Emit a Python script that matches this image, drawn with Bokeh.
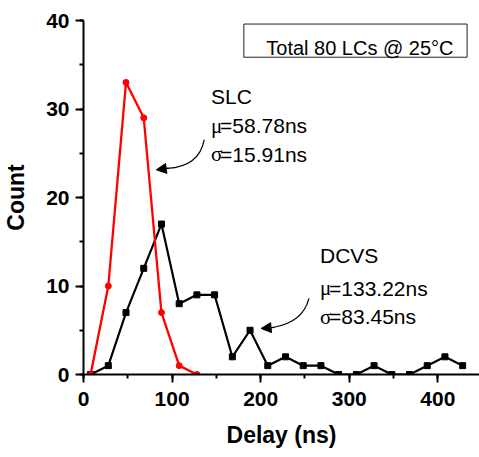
import math
from bokeh.plotting import figure
from bokeh.models import Range1d, SingleIntervalTicker, Arrow, NormalHead
from bokeh.embed import file_html
from bokeh.resources import INLINE
from bokeh.core.properties import value

# ---- data ----
dcvs_delay = [8, 28, 48, 68, 88, 108, 128, 148, 168, 188, 208, 228, 248, 268,
              288, 308, 328, 348, 368, 388, 408, 428]
dcvs_count = [0, 1, 7, 12, 17, 8, 9, 9, 2, 5, 1, 2, 1, 1, 0, 0, 1, 0, 0, 1, 2, 1]
slc_delay = [8, 28, 48, 68, 88, 108, 128]
slc_count = [0, 10, 33, 29, 7, 1, 0]

x_ticks = [0, 100, 200, 300, 400]
y_ticks = [0, 10, 20, 30, 40]

SANS = "Liberation Sans"
SERIF = "Liberation Serif"

p = figure(width=479, height=457, x_range=Range1d(0, 447), y_range=Range1d(0, 40),
           output_backend="svg", toolbar_location=None,
           min_border_left=82, min_border_right=0, min_border_top=20, min_border_bottom=83)
p.outline_line_color = None
p.grid.visible = False
p.background_fill_color = "white"
p.border_fill_color = "white"

for ax, interval in ((p.xaxis[0], 100), (p.yaxis[0], 10)):
    ax.ticker = SingleIntervalTicker(interval=interval, num_minor_ticks=2)
    ax.axis_line_width = 2
    ax.major_tick_line_width = 2
    ax.minor_tick_line_width = 2
    ax.major_tick_in = 0
    ax.major_tick_out = 8
    ax.minor_tick_in = 0
    ax.minor_tick_out = 4
    ax.major_label_text_font = SANS
    ax.major_label_text_font_style = "bold"
    ax.major_label_text_font_size = "21px"
    ax.major_label_text_color = "black"
    ax.axis_line_color = "black"
    ax.axis_label_text_font = SANS
    ax.axis_label_text_font_style = "bold"
    ax.axis_label_text_font_size = "23px"
    ax.axis_label_text_color = "black"

p.xaxis.major_label_standoff = 9
p.yaxis.major_label_standoff = 6
p.xaxis.axis_label = "Delay (ns)"
p.xaxis.axis_label_standoff = 13
p.yaxis.axis_label = "Count"
p.yaxis.axis_label_standoff = 14

# series
p.line(dcvs_delay, dcvs_count, line_color="black", line_width=2.2)
p.scatter(dcvs_delay, dcvs_count, marker="square", size=6, fill_color="black", line_color="black")
p.line(slc_delay, slc_count, line_color="red", line_width=2.3)
p.scatter(slc_delay, slc_count, marker="circle", size=6, fill_color="red", line_color="red")

# box label
p.quad(left=[181], right=[433], bottom=[35.85], top=[39.6],
       fill_color="white", line_color="#222222", line_width=1)
p.text(x=[312], y=[36.9], text=["Total 80 LCs @ 25\u00b0C"], text_align="center",
       text_baseline="alphabetic", text_font=value(SANS), text_font_size="20px", text_color="black")

def stats_block(x, y_name, y_mu, y_sig, name, mu, sig):
    p.text(x=[x], y=[y_name], text=[name], text_baseline="alphabetic",
           text_font=value(SANS), text_font_size="21px", text_color="black")
    p.text(x=[x, x], y=[y_mu, y_sig], text=["\u03bc", "\u03c3"], text_baseline="alphabetic",
           text_font=value(SERIF), text_font_size="21px", text_color="black")
    p.text(x=[x, x], y=[y_mu, y_sig], text=["=" + mu, "=" + sig], x_offset=9,
           text_baseline="alphabetic", text_font=value(SANS), text_font_size="21px",
           text_color="black")

stats_block(144, 31.4, 28.1, 24.9, "SLC", "58.78ns", "15.91ns")
stats_block(267, 13.4, 9.75, 6.5, "DCVS", "133.22ns", "83.45ns")

# curved arrows
p.quadratic(x0=[136.3, 254.5], y0=[26.55, 8.59], x1=[94.6, 214.0], y1=[23.3, 5.31],
            cx=[130.6, 247.7], cy=[23.5, 5.88], line_color="black", line_width=1.2)
for xs, ys, xe, ye in ((96.0, 23.32, 82.2, 23.13), (215.5, 5.33, 200.5, 5.2)):
    p.add_layout(Arrow(x_start=xs, y_start=ys, x_end=xe, y_end=ye, line_width=1.2,
                       line_color="black",
                       end=NormalHead(size=10, fill_color="black", line_color="black", line_width=1)))

open("out.html", "w").write(file_html(p, INLINE))
